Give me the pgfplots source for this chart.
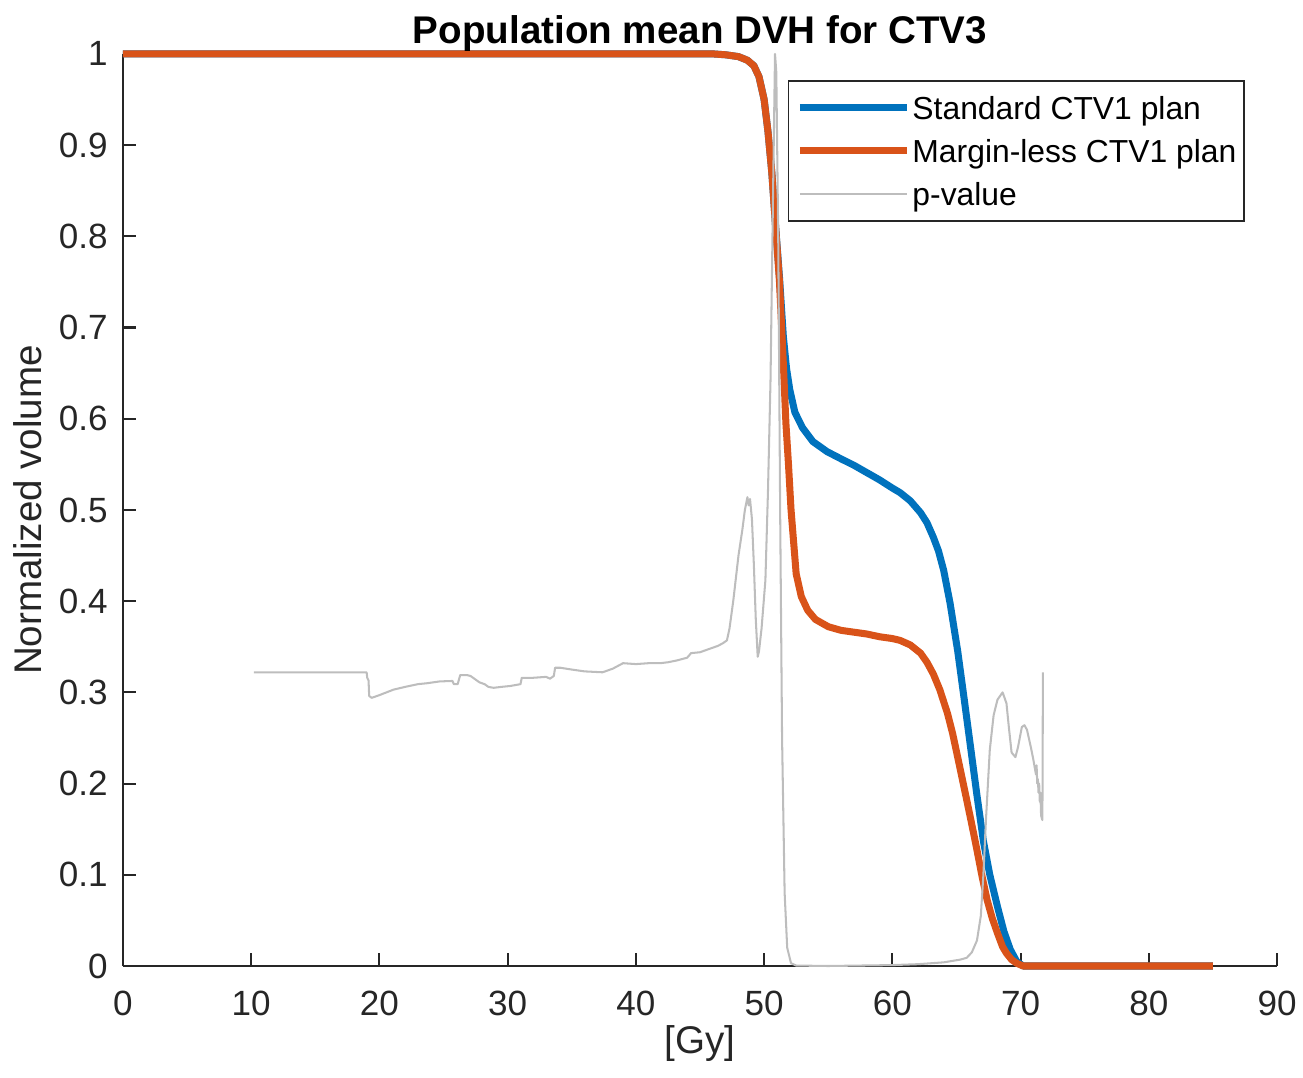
\documentclass[border=0pt]{standalone}
\usepackage{pgfplots}
\pgfplotsset{compat=1.18}
\usepackage{fontspec}
\setmainfont{Liberation Sans}

\definecolor{mblue}{HTML}{0072BD}
\definecolor{morange}{HTML}{D95319}
\definecolor{pgray}{HTML}{BDBDBD}
\definecolor{axgray}{HTML}{262626}

\begin{document}
\begin{tikzpicture}
\begin{axis}[
    scale only axis,
    width=395pt, height=312.2pt,
    xmin=0, xmax=90, ymin=0, ymax=1,
    xtick={0,10,...,90},
    ytick={0,0.1,...,1},
    yticklabels={0,0.1,0.2,0.3,0.4,0.5,0.6,0.7,0.8,0.9,1},
    axis x line*=bottom, axis y line*=left,
    axis line style={axgray, line width=0.7pt, -},
    tick style={axgray, line width=0.7pt},
    tick align=inside, major tick length=4.5pt,
    /pgf/number format/assume math mode=true,
    ticklabel style={font=\fontsize{12}{14}\selectfont, text=axgray, inner sep=0pt},
    xticklabel style={anchor=north, yshift=-8.2pt},
    yticklabel style={anchor=east, xshift=-5.1pt},
    xlabel={[Gy]},
    ylabel={Normalized volume},
    label style={font=\fontsize{13.2}{15}\selectfont, text=axgray},
    xlabel style={at={(axis description cs:0.5,0)}, anchor=center, yshift=-26.4pt},
    ylabel style={at={(axis description cs:-0.0823,0.5)}, anchor=center},
    title={Population mean DVH for CTV3},
    title style={font=\bfseries\fontsize{13.2}{15}\selectfont, at={(axis description cs:0.5,1)}, anchor=base, yshift=-2.6pt, inner sep=0pt},
    legend style={at={(axis description cs:0.576,0.9715)}, anchor=north west,
        draw=axgray, line width=0.6pt, fill=white,
        font=\fontsize{10.9}{13}\selectfont,
        inner xsep=2.7pt, inner ysep=3pt, row sep=2.4pt,
        nodes={inner sep=0pt, text height=10.1pt, text depth=2.3pt},
        /tikz/every odd column/.style={column sep=0.7pt}},
    legend cell align=left,
    legend image code/.code={\draw[#1] (0pt,0pt) -- (36.6pt,0pt);},
    clip=false,
]
\coordinate (O) at (rel axis cs:0,0);

\addplot[mblue, line width=2.4pt, line join=round] coordinates {
(0,1) (46,1) (47,0.999) (48,0.997) (48.7,0.993) (49.2,0.987) (49.6,0.975)
(50.0,0.95) (50.3,0.915) (50.6,0.87) (50.9,0.81) (51.2,0.755) (51.5,0.69)
(51.75,0.655) (52.0,0.632) (52.4,0.607) (53.0,0.59) (53.8,0.575) (54.9,0.564)
(56,0.556) (57,0.549) (58,0.541) (59,0.533) (60,0.524) (60.6,0.519)
(61.4,0.51) (62.2,0.497) (62.7,0.486) (63.2,0.47) (63.6,0.455) (64.0,0.434)
(64.5,0.398) (65.1,0.345) (65.6,0.293) (66.1,0.24) (66.6,0.187) (67.1,0.137)
(67.6,0.1) (68.2,0.065) (68.7,0.038) (69.2,0.018) (69.7,0.005) (70.2,0) (85,0)
};
\addlegendentry{Standard CTV1 plan}

\addplot[morange, line width=2.4pt, line join=round] coordinates {
(0,1) (46,1) (47,0.999) (48,0.997) (48.7,0.993) (49.2,0.987) (49.6,0.975)
(50.0,0.95) (50.3,0.915) (50.6,0.87) (50.9,0.81) (51.2,0.75) (51.5,0.66)
(51.7,0.595) (51.9,0.55) (52.1,0.5) (52.5,0.43) (52.9,0.405) (53.4,0.39)
(54,0.38) (55,0.372) (56,0.368) (57,0.366) (58,0.364) (59,0.361) (60,0.359)
(60.6,0.357) (61.4,0.352) (62.2,0.343) (62.7,0.333) (63.2,0.32) (63.7,0.303)
(64.3,0.277) (64.7,0.255) (65.2,0.222) (65.8,0.182) (66.2,0.155) (66.6,0.127)
(67.0,0.098) (67.4,0.072) (67.8,0.052) (68.2,0.036) (68.6,0.021) (68.9,0.014)
(69.3,0.007) (69.7,0.003) (70.2,0) (85,0)
};
\addlegendentry{Margin-less CTV1 plan}

\addplot[pgray, line width=0.7pt, line join=round] coordinates {
(10.2,0.322) (19.0,0.322) (19.05,0.316) (19.15,0.313) (19.2,0.296) (19.4,0.294)
(20,0.297) (21.1,0.303) (22,0.306) (23,0.309) (23.7,0.31) (24.7,0.312)
(25.7,0.3125) (25.8,0.309) (26.1,0.309) (26.3,0.319) (26.8,0.319) (27.1,0.318)
(27.5,0.314) (27.8,0.311) (28.2,0.309) (28.5,0.306) (28.9,0.305) (29.5,0.306)
(30.2,0.307) (31,0.309) (31.1,0.316) (32,0.316) (33,0.317) (33.3,0.315)
(33.6,0.318) (33.7,0.327) (34.1,0.327) (35,0.325) (36,0.323) (37.4,0.322)
(38.2,0.326) (39,0.332) (40,0.331) (41,0.332) (41.9,0.332) (42.5,0.333)
(43.2,0.335) (44,0.338) (44.3,0.343) (45,0.344) (45.8,0.348) (46.4,0.351)
(46.8,0.354) (47.1,0.357) (47.3,0.37) (47.6,0.401) (48.0,0.45) (48.3,0.478)
(48.5,0.5) (48.7,0.514) (48.8,0.505) (48.9,0.512) (49.05,0.49) (49.2,0.44)
(49.35,0.38) (49.5,0.339) (49.6,0.345) (49.8,0.37) (50.1,0.423) (50.3,0.52)
(50.5,0.643) (50.7,0.85) (50.85,1.0) (50.95,0.98) (51.1,0.8) (51.25,0.5)
(51.4,0.25) (51.6,0.08) (51.8,0.02) (52.1,0.003) (52.5,0.0005) (55,0)
(60,0.001) (62,0.002) (64,0.004) (65.3,0.007) (65.8,0.009) (66.2,0.015)
(66.6,0.028) (66.9,0.055) (67.1,0.1) (67.3,0.16) (67.6,0.237) (67.9,0.275)
(68.2,0.292) (68.6,0.30) (68.9,0.288) (69.1,0.26) (69.3,0.234) (69.6,0.229)
(69.8,0.24) (70.1,0.262) (70.3,0.264) (70.5,0.259) (70.8,0.24) (71.0,0.226)
(71.2,0.21) (71.25,0.22) (71.3,0.2) (71.35,0.205) (71.4,0.19) (71.45,0.2)
(71.5,0.18) (71.55,0.19) (71.6,0.165) (71.7,0.16) (71.72,0.21) (71.74,0.322)
};
\addlegendentry{p-value}
\end{axis}
\pgfresetboundingbox
\useasboundingbox ([shift={(-42.1pt,-38pt)}]O) rectangle ++(446pt,368.65pt);
\end{tikzpicture}
\end{document}
